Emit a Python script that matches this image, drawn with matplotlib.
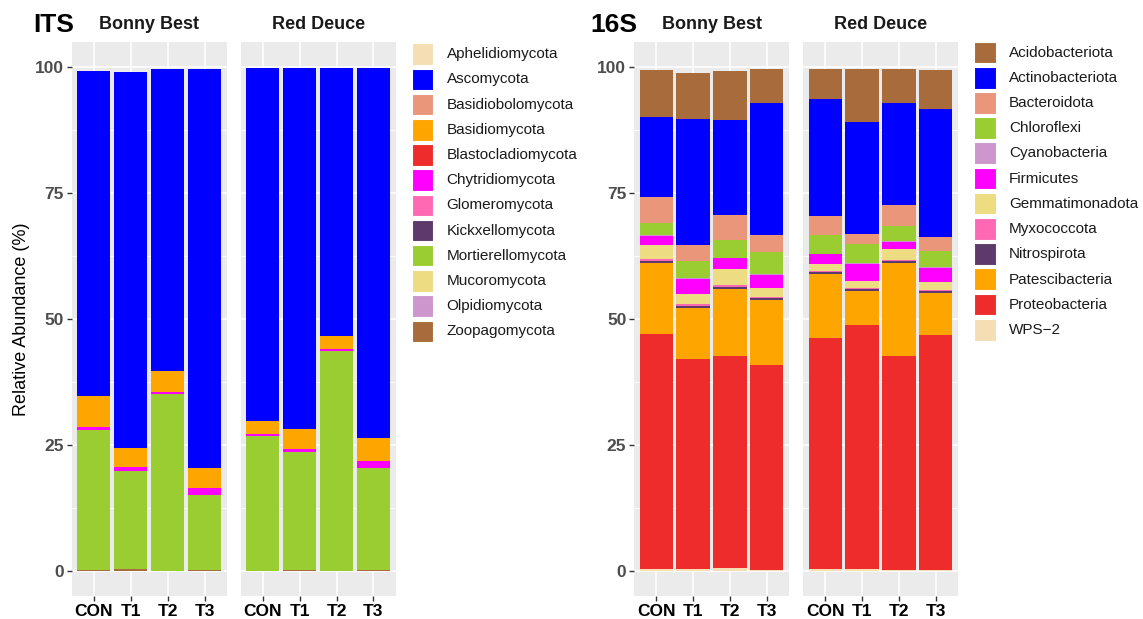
import matplotlib
matplotlib.use("Agg")
import matplotlib.pyplot as plt
from matplotlib.patches import Rectangle
import numpy as np

plt.rcParams['font.family'] = ['Liberation Sans', 'DejaVu Sans']

W, H = 1143, 619
samples = ['CON', 'T1', 'T2', 'T3']

# ITS (fungi) - legend order, colours
its_taxa = ['Aphelidiomycota', 'Ascomycota', 'Basidiobolomycota', 'Basidiomycota',
            'Blastocladiomycota', 'Chytridiomycota', 'Glomeromycota', 'Kickxellomycota',
            'Mortierellomycota', 'Mucoromycota', 'Olpidiomycota', 'Zoopagomycota']
its_colors = ['#F5DEB3', '#0000FF', '#E9967A', '#FFA500', '#EE2C2C', '#FF00FF',
              '#FF69B4', '#5D3A6B', '#9ACD32', '#EEDC82', '#CD96CD', '#A86B3B']

its_bonny = {
    'Zoopagomycota':     [0.1, 0.3, 0.0, 0.2],
    'Mortierellomycota': [27.8, 19.5, 35.0, 14.8],
    'Chytridiomycota':   [0.7, 0.8, 0.5, 1.4],
    'Basidiomycota':     [6.0, 3.8, 4.1, 4.1],
    'Ascomycota':        [64.6, 74.5, 60.0, 79.1],
}
its_red = {
    'Zoopagomycota':     [0.0, 0.2, 0.0, 0.2],
    'Mortierellomycota': [26.7, 23.3, 43.6, 20.2],
    'Chytridiomycota':   [0.4, 0.7, 0.5, 1.4],
    'Basidiomycota':     [2.6, 3.9, 2.5, 4.6],
    'Ascomycota':        [70.1, 71.7, 53.1, 73.3],
}

# 16S (bacteria)
bac_taxa = ['Acidobacteriota', 'Actinobacteriota', 'Bacteroidota', 'Chloroflexi',
            'Cyanobacteria', 'Firmicutes', 'Gemmatimonadota', 'Myxococcota',
            'Nitrospirota', 'Patescibacteria', 'Proteobacteria', 'WPS\u22122']
bac_colors = ['#A86B3B', '#0000FF', '#E9967A', '#9ACD32', '#CD96CD', '#FF00FF',
              '#EEDC82', '#FF69B4', '#5D3A6B', '#FFA500', '#EE2C2C', '#F5DEB3']

bac_bonny = {
    'WPS\u22122':       [0.4, 0.4, 0.5, 0.2],
    'Proteobacteria':   [46.5, 41.7, 42.2, 40.7],
    'Patescibacteria':  [14.2, 10.1, 13.3, 12.9],
    'Nitrospirota':     [0.4, 0.4, 0.4, 0.3],
    'Myxococcota':      [0.3, 0.3, 0.4, 0.2],
    'Gemmatimonadota':  [2.8, 2.1, 3.0, 1.8],
    'Firmicutes':       [1.9, 3.0, 2.2, 2.6],
    'Cyanobacteria':    [0.2, 0.2, 0.1, 0.2],
    'Chloroflexi':      [2.3, 3.3, 3.5, 4.3],
    'Bacteroidota':     [5.2, 3.1, 5.0, 3.5],
    'Actinobacteriota': [15.8, 25.0, 18.9, 26.1],
    'Acidobacteriota':  [9.4, 9.2, 9.7, 6.7],
}
bac_red = {
    'WPS\u22122':       [0.3, 0.4, 0.2, 0.2],
    'Proteobacteria':   [45.9, 48.3, 42.5, 46.6],
    'Patescibacteria':  [12.7, 6.9, 18.3, 8.4],
    'Nitrospirota':     [0.4, 0.4, 0.4, 0.4],
    'Myxococcota':      [0.1, 0.2, 0.3, 0.2],
    'Gemmatimonadota':  [1.5, 1.3, 2.2, 1.5],
    'Firmicutes':       [1.9, 3.4, 1.4, 2.7],
    'Cyanobacteria':    [0.1, 0.2, 0.1, 0.2],
    'Chloroflexi':      [3.8, 3.7, 3.1, 3.2],
    'Bacteroidota':     [3.7, 2.1, 4.1, 2.9],
    'Actinobacteriota': [23.3, 22.2, 20.2, 25.3],
    'Acidobacteriota':  [5.9, 10.4, 6.7, 7.8],
}


def px_axes(fig, x0, y0, x1, y1):
    return fig.add_axes([x0 / W, 1 - y1 / H, (x1 - x0) / W, (y1 - y0) / H])


def draw_panel(ax, data, taxa, colors, title, ylabel=None):
    ax.set_facecolor('#EBEBEB')
    x = np.arange(len(samples))
    bottom = np.zeros(len(samples))
    # ggplot stacks the first factor level on top, so draw in reverse
    for name, col in zip(taxa[::-1], colors[::-1]):
        vals = np.array(data.get(name, [0, 0, 0, 0]), dtype=float)
        ax.bar(x, vals, 0.9, bottom=bottom, color=col, linewidth=0, zorder=3)
        bottom += vals
    ax.set_xlim(-0.6, 3.6)
    ax.set_ylim(-5, 105)
    ax.set_yticks([0, 25, 50, 75, 100])
    ax.set_yticks([12.5, 37.5, 62.5, 87.5], minor=True)
    ax.set_xticks(x)
    ax.set_xticklabels(samples, fontsize=12.5, fontweight='bold', color='black')
    ax.grid(which='major', color='white', linewidth=1.1, zorder=1)
    ax.grid(which='minor', axis='y', color='white', linewidth=0.55, zorder=1)
    ax.tick_params(which='minor', length=0)
    ax.tick_params(which='major', length=3.5, width=1, color='#333333', pad=2)
    ax.set_axisbelow(True)
    for s in ax.spines.values():
        s.set_visible(False)
    ax.text(0.5, 1 + 17.5 / 554, title, transform=ax.transAxes, ha='center',
            va='center', fontsize=13, fontweight='bold', color='#1A1A1A')
    if ylabel is None:
        ax.set_yticklabels([])
        ax.tick_params(axis='y', length=0)
    else:
        ax.set_yticklabels(['0', '25', '50', '75', '100'], fontsize=12.5,
                           fontweight='bold', color='#4D4D4D')
        if ylabel:
            ax.set_ylabel(ylabel, fontsize=13, labelpad=4)


def draw_legend(fig, taxa, colors, kx, ky):
    for i, (name, col) in enumerate(zip(taxa, colors)):
        y = ky + i * 25.2
        fig.patches.append(Rectangle((kx / W, 1 - (y + 21.6) / H), 21.6 / W, 21.6 / H,
                                     transform=fig.transFigure, figure=fig,
                                     facecolor=col, edgecolor='white', linewidth=0.8))
        fig.text((kx + 35) / W, 1 - (y + 11) / H, name, fontsize=11,
                 va='center', ha='left', color='#1A1A1A')


fig = plt.figure(figsize=(W / 100, H / 100), dpi=100)

top, bot = 41.7, 596
ax1 = px_axes(fig, 71.7, top, 226.7, bot)
ax2 = px_axes(fig, 240.7, top, 395.5, bot)
ax3 = px_axes(fig, 634, top, 789, bot)
ax4 = px_axes(fig, 803, top, 958, bot)

draw_panel(ax1, its_bonny, its_taxa, its_colors, 'Bonny Best', 'Relative Abundance (%)')
draw_panel(ax2, its_red, its_taxa, its_colors, 'Red Deuce')
draw_panel(ax3, bac_bonny, bac_taxa, bac_colors, 'Bonny Best', '')
draw_panel(ax4, bac_red, bac_taxa, bac_colors, 'Red Deuce')

fig.text(33 / W, 1 - 25 / H, 'ITS', fontsize=19, fontweight='bold', va='center', ha='left')
fig.text(590 / W, 1 - 25 / H, '16S', fontsize=19, fontweight='bold', va='center', ha='left')

draw_legend(fig, its_taxa, its_colors, 411.7, 43.3)
draw_legend(fig, bac_taxa, bac_colors, 974, 41.7)

fig.savefig('out.png', dpi=100)
